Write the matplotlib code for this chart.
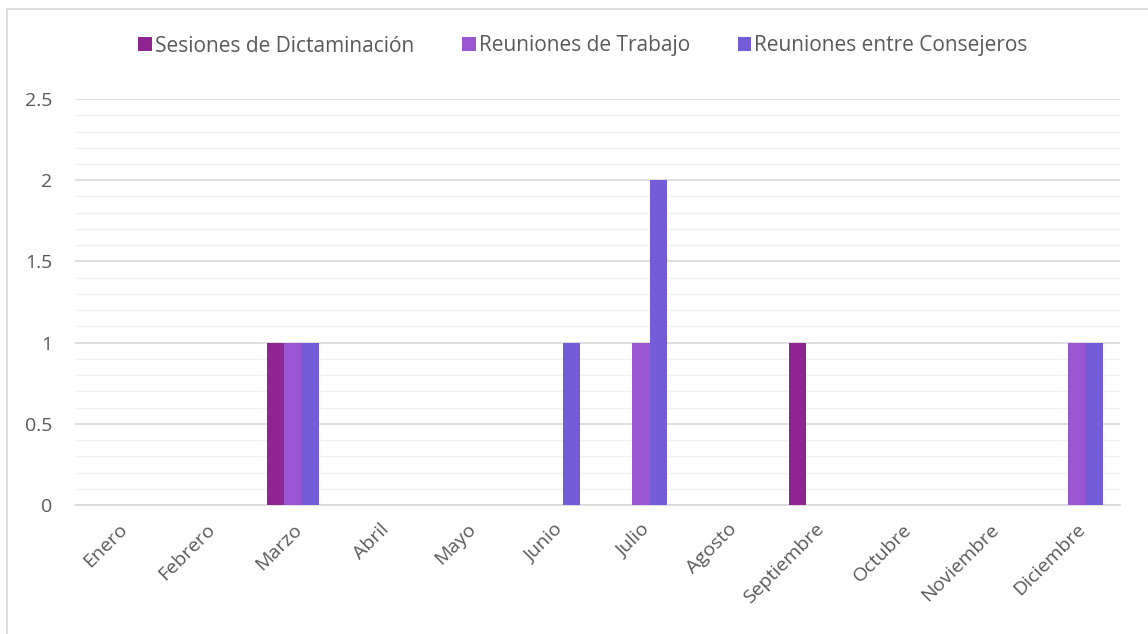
import numpy as np
import matplotlib.pyplot as plt
from matplotlib.lines import Line2D

meses = ['Enero', 'Febrero', 'Marzo', 'Abril', 'Mayo', 'Junio', 'Julio',
         'Agosto', 'Septiembre', 'Octubre', 'Noviembre', 'Diciembre']
sesiones = [0, 0, 1, 0, 0, 0, 0, 0, 1, 0, 0, 0]
trabajo = [0, 0, 1, 0, 0, 0, 1, 0, 0, 0, 0, 1]
consejeros = [0, 0, 1, 0, 0, 1, 2, 0, 0, 0, 0, 1]

series = [
    ('Sesiones de Dictaminación', sesiones, '#8E2590'),
    ('Reuniones de Trabajo', trabajo, '#9B57D3'),
    ('Reuniones entre Consejeros', consejeros, '#745CD8'),
]

plt.rcParams['font.family'] = ['Open Sans', 'DejaVu Sans']
texto = '#595959'

fig = plt.figure(figsize=(11.48, 6.34), dpi=100)
ax = fig.add_axes([0.0653, 0.2035, 0.9103, 0.6403])

x = np.arange(len(meses))
ancho = 0.2
for i, (nombre, valores, color) in enumerate(series):
    ax.bar(x + (i - 1) * ancho, valores, ancho, color=color, label=nombre, zorder=3)

ax.set_xlim(-0.5, len(meses) - 0.5)
ax.set_ylim(0, 2.5)
ax.set_yticks([0, 0.5, 1, 1.5, 2, 2.5])
ax.set_yticklabels(['0', '0.5', '1', '1.5', '2', '2.5'])
ax.set_yticks(np.arange(0, 2.51, 0.1), minor=True)
ax.grid(axis='y', which='major', color='#D9D9D9', linewidth=1.2, zorder=0)
ax.grid(axis='y', which='minor', color='#F2F2F2', linewidth=1.0, zorder=0)
ax.tick_params(axis='y', which='both', length=0, pad=16, labelsize=14, labelcolor=texto)
ax.set_xticks(x)
ax.set_xticklabels(meses, rotation=45, ha='right', rotation_mode='anchor')
ax.tick_params(axis='x', length=0, pad=11, labelsize=14, labelcolor=texto)
for lado in ['top', 'right', 'left']:
    ax.spines[lado].set_visible(False)
ax.spines['bottom'].set_color('#D9D9D9')
ax.spines['bottom'].set_linewidth(1.2)

fig.legend(loc='center', bbox_to_anchor=(583 / 1148, 1 - 46 / 634), ncol=3, frameon=False,
           fontsize=15, labelcolor=texto, handlelength=0.65, handleheight=0.65,
           handletextpad=0.15, columnspacing=2.3)

# borde del área del gráfico (arriba e izquierda)
fig.add_artist(Line2D([7 / 1148, 1], [1 - 9 / 634, 1 - 9 / 634], color='#D9D9D9', linewidth=1.2))
fig.add_artist(Line2D([7 / 1148, 7 / 1148], [0, 1 - 9 / 634], color='#D9D9D9', linewidth=1.2))

fig.savefig('out.png', dpi=100)
